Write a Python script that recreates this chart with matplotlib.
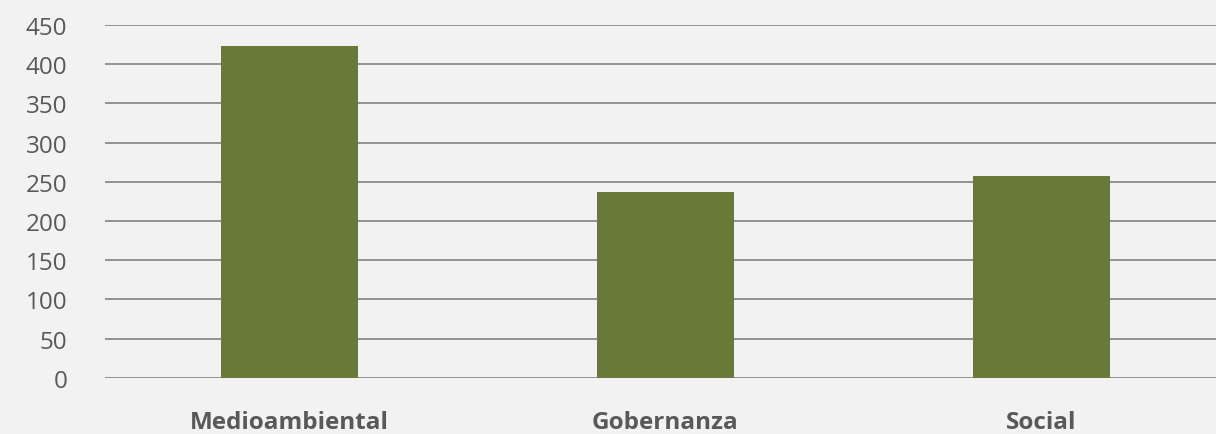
import matplotlib
matplotlib.use("Agg")
import matplotlib.pyplot as plt
import numpy as np

categories = ["Medioambiental", "Gobernanza", "Social"]
values = [423, 237, 257]
yticks = [0, 50, 100, 150, 200, 250, 300, 350, 400, 450]

plt.rcParams['font.family'] = ['Open Sans', 'DejaVu Sans']

fig = plt.figure(figsize=(12.16, 4.35), dpi=100)
fig.patch.set_facecolor('#f2f2f2')
ax = fig.add_axes([105/1216, 1 - 378.7/435, 1128/1216, (378.7 - 26)/435])
ax.set_facecolor('none')

x = np.arange(len(categories))
ax.bar(x, values, width=0.364, color='#68793a', zorder=3)

ax.set_xlim(-0.49, 2.51)
ax.set_ylim(0, 450)
ax.set_yticks(yticks)
ax.set_yticklabels([str(t) for t in yticks], fontsize=17.5, color='#595959')
ax.set_xticks(x)
ax.set_xticklabels(categories, fontsize=17.5, fontweight='bold', color='#595959')
ax.tick_params(axis='y', length=0, pad=27)
ax.tick_params(axis='x', length=0, pad=23)
ax.yaxis.grid(True, color='#8a8a8a', linewidth=1.3, zorder=0)
for s in ax.spines.values():
    s.set_visible(False)

fig.savefig('out.png', dpi=100, facecolor=fig.get_facecolor())
